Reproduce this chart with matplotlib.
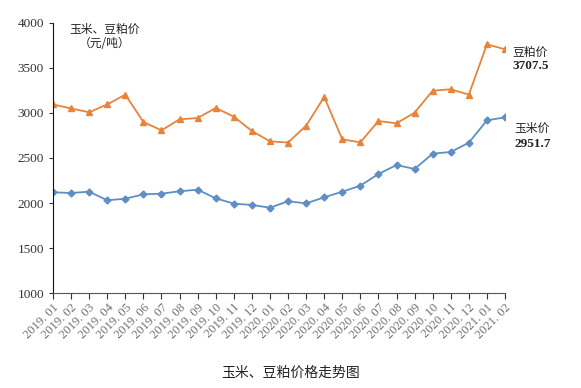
import numpy as np
import matplotlib.pyplot as plt

plt.rcParams['font.family'] = ['Liberation Serif', 'Noto Sans CJK SC', 'DejaVu Sans']

months = ['2019. 01', '2019. 02', '2019. 03', '2019. 04', '2019. 05', '2019. 06', '2019. 07',
          '2019. 08', '2019. 09', '2019. 10', '2019. 11', '2019. 12', '2020. 01', '2020. 02',
          '2020. 03', '2020. 04', '2020. 05', '2020. 06', '2020. 07', '2020. 08', '2020. 09',
          '2020. 10', '2020. 11', '2020. 12', '2021. 01', '2021. 02']
soymeal = [3095, 3050, 3008, 3095, 3204, 2900, 2807, 2930, 2944, 3056, 2959, 2800, 2685,
           2672, 2859, 3178, 2707, 2674, 2911, 2885, 3004, 3248, 3263, 3204, 3763, 3707.5]
corn = [2119, 2111, 2126, 2030, 2048, 2096, 2104, 2130, 2148, 2052, 1993, 1978, 1948,
        2019, 1996, 2063, 2126, 2193, 2322, 2422, 2378, 2548, 2567, 2670, 2918, 2951.7]

orange = '#E8843A'
blue = '#5E8FC4'

fig = plt.figure(figsize=(5.81, 3.88), dpi=100)
ax = fig.add_axes([0.0912, 0.2448, 0.778, 0.696])

x = np.arange(len(months))
ax.plot(x, soymeal, color=orange, lw=1.3, marker='^', ms=5, mfc=orange, mec=orange)
ax.plot(x, corn, color=blue, lw=1.3, marker='D', ms=3.5, mfc=blue, mec=blue)

ax.set_xlim(0, len(months) - 1)
ax.set_ylim(1000, 4000)
ax.set_yticks(np.arange(1000, 4001, 500))
ax.set_xticks(x)
ax.set_xticklabels(months, rotation=45, ha='right', rotation_mode='anchor',
                   fontsize=9, color='#707070')
ax.tick_params(axis='y', labelsize=9.5, colors='#333333', length=3, width=0.8)
ax.tick_params(axis='x', length=4, width=0.8, color='#333333', pad=2)
for s in ['top', 'right']:
    ax.spines[s].set_visible(False)
ax.spines['left'].set_color('#111111')
ax.spines['bottom'].set_color('#555555')

cjk = ['Noto Sans CJK SC', 'DejaVu Sans']
fig.text(0.18, 0.925, '玉米、豆粕价', family=cjk, fontsize=8.5, ha='center', va='center', color='#222222')
fig.text(0.18, 0.887, '（元/吨）', family=cjk, fontsize=8.5, ha='center', va='center', color='#222222')
fig.text(0.882, 0.866, '豆粕价', family=cjk, fontsize=8.5, ha='left', va='center', color='#222222')
fig.text(0.882, 0.830, '3707.5', fontsize=9.5, ha='left', va='center', color='#222222', weight='bold')
fig.text(0.885, 0.670, '玉米价', family=cjk, fontsize=8.5, ha='left', va='center', color='#222222')
fig.text(0.885, 0.629, '2951.7', fontsize=9.5, ha='left', va='center', color='#222222', weight='bold')
fig.text(0.5, 0.04, '玉米、豆粕价格走势图', family=cjk, fontsize=10, ha='center', va='center', color='#222222')

fig.savefig('out.png', dpi=100)
